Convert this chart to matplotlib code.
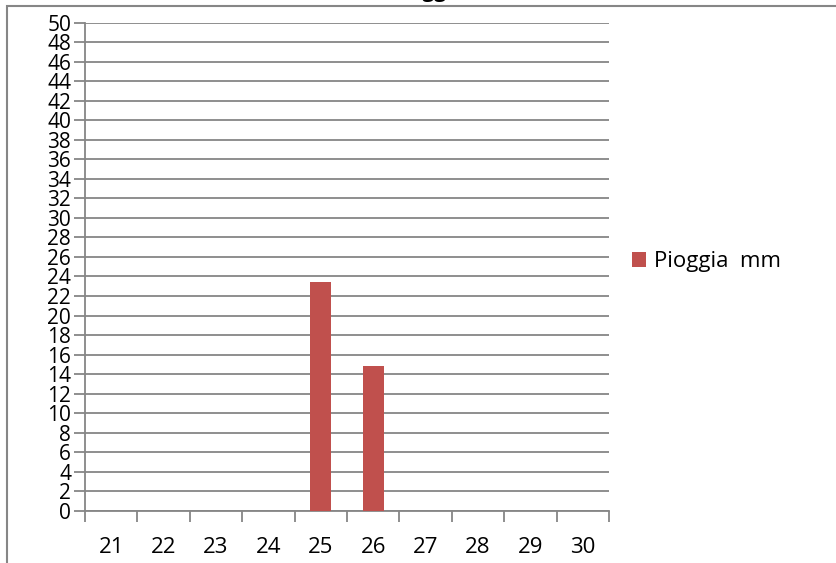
import matplotlib
matplotlib.use('Agg')
import matplotlib.pyplot as plt
from matplotlib.patches import Rectangle
import numpy as np

# Dati
giorni = ['21', '22', '23', '24', '25', '26', '27', '28', '29', '30']
pioggia = [0, 0, 0, 0, 23.4, 14.8, 0, 0, 0, 0]
serie = 'Pioggia  mm'
titolo = 'Pioggia'

plt.rcParams['font.family'] = ['Open Sans', 'DejaVu Sans']

W, H = 836, 563
fig = plt.figure(figsize=(W / 100, H / 100), dpi=100)
ax = fig.add_axes([85 / W, (H - 510.7) / H, (609 - 85) / W, (510.7 - 22.7) / H])

x = np.arange(len(giorni))
ax.bar(x, pioggia, width=0.4, color='#C0504D', label=serie, zorder=3)

ax.set_xlim(-0.5, len(giorni) - 0.5)
ax.set_ylim(0, 50)
ax.set_yticks(np.arange(0, 51, 2))
ax.set_yticklabels([str(v) for v in range(0, 51, 2)], fontsize=15,
                   family=['Liberation Sans Narrow', 'Open Sans'])
ax.set_xticks(x)
ax.set_xticklabels(giorni, fontsize=16)
ax.set_xticks(np.arange(-0.5, len(giorni)), minor=True)

grey = '#868686'
ax.grid(True, axis='y', color=grey, linewidth=1.3, zorder=0)
for s in ['top', 'right']:
    ax.spines[s].set_visible(False)
for s in ['left', 'bottom']:
    ax.spines[s].set_color(grey)
    ax.spines[s].set_linewidth(1.3)
ax.tick_params(axis='y', length=8, width=1.3, color=grey, pad=2)
ax.tick_params(axis='x', which='major', length=0, pad=19)
ax.tick_params(axis='x', which='minor', length=8, width=1.3, color=grey)

fig.legend(loc='center left', bbox_to_anchor=(612 / W, (H - 262) / H),
           frameon=False, fontsize=16, handlelength=0.65, handleheight=0.65,
           handletextpad=0.35)

# bordo dell'area del grafico (tagliato)
fig.patches.append(Rectangle((7 / W, -0.1), 1.2, (H - 6.5) / H + 0.1,
                             transform=fig.transFigure, fill=False,
                             edgecolor=grey, linewidth=1.5))
fig.text(428 / W, 1 + 3 / H, titolo, ha='center', va='baseline',
         fontsize=15, fontweight='bold')

fig.savefig('out.png', dpi=100)
